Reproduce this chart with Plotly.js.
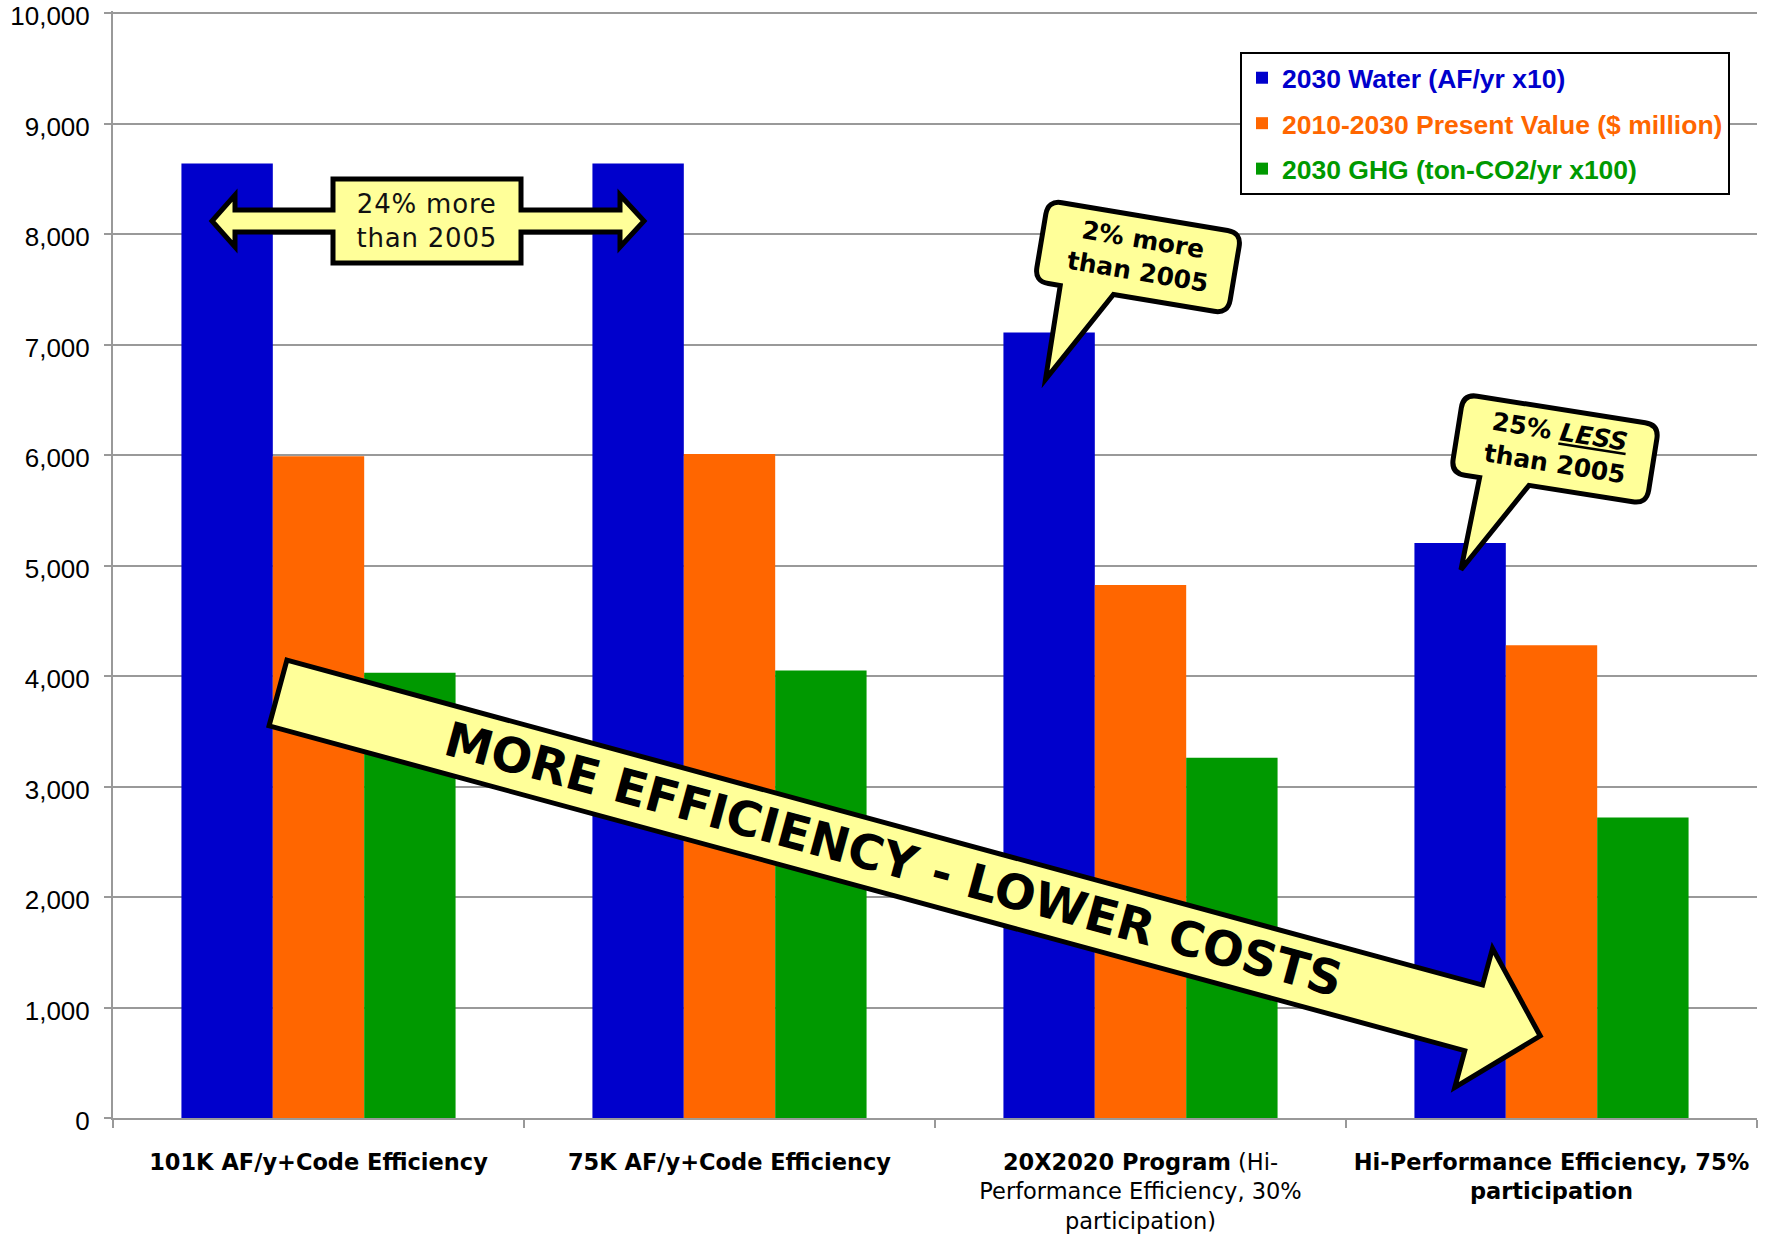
<!DOCTYPE html>
<html>
<head>
<meta charset="utf-8">
<script src="https://cdn.plot.ly/plotly-3.0.1.min.js"></script>
<style>
  html, body { margin: 0; padding: 0; background: #ffffff; }
  #chart { width: 1767px; height: 1236px; }
  /* slightly wider tracking for the boxed note */
  #chart .annotation[data-index="0"] text { letter-spacing: 0.8px; }
</style>
</head>
<body>
<div id="chart"></div>
<script>
// Scenario categories and their axis labels
const categories = [
  '101K AF/y+Code Efficiency',
  '75K AF/y+Code Efficiency',
  '20X2020 Program (Hi-Performance Efficiency, 30% participation)',
  'Hi-Performance Efficiency, 75% participation'
];
const tickLabels = [
  '<b>101K AF/y+Code Efficiency</b>',
  '<b>75K AF/y+Code Efficiency</b>',
  '<b>20X2020 Program</b> (Hi-<br>Performance Efficiency, 30%<br>participation)',
  '<b>Hi-Performance Efficiency, 75%<br>participation</b>'
];

// Series
const seriesNames = [
  '2030 Water (AF/yr x10)',
  '2010-2030 Present Value ($ million)',
  '2030 GHG (ton-CO2/yr x100)'
];
const water2030 = [8640, 8640, 7110, 5205];
const presentValue = [5990, 6010, 4825, 4280];
const ghg2030 = [4030, 4050, 3260, 2720];
const seriesColors = ['#0000CC', '#FF6600', '#009900'];

const yTicks = [0, 1000, 2000, 3000, 4000, 5000, 6000, 7000, 8000, 9000, 10000];
const yMax = 10020;

// Plot-area geometry (pixels) used for the decorative callouts
const W = 1767, H = 1236;
const M = { l: 113, r: 10, t: 11, b: 118 };
const PL = M.l, PR = W - M.r, PT = M.t, PB = H - M.b;
const fx = x => ((x - PL) / (PR - PL)).toFixed(5);
const fy = y => ((PB - y) / (PB - PT)).toFixed(5);
const pt = p => fx(p[0]) + ',' + fy(p[1]);

function polyPath(points) {
  return points.map((p, i) => (i ? 'L' : 'M') + pt(p)).join(' ') + ' Z';
}

// rotate local (x,y) about a centre, angle in degrees (clockwise on screen)
function rotator(cx, cy, deg) {
  const a = deg * Math.PI / 180, c = Math.cos(a), s = Math.sin(a);
  return ([x, y]) => [cx + x * c - y * s, cy + x * s + y * c];
}

// Rounded speech bubble with a tail pointing down-left
function bubblePath(cx, cy, w, h, r, deg, tail) {
  const T = rotator(cx, cy, deg);
  const hw = w / 2, hh = h / 2;
  const segs = [
    ['M', [-hw + r, -hh]],
    ['L', [hw - r, -hh]],
    ['Q', [hw, -hh], [hw, -hh + r]],
    ['L', [hw, hh - r]],
    ['Q', [hw, hh], [hw - r, hh]],
    ['L', [tail.b2, hh]],
    ['L', tail.tip],
    ['L', [tail.b1, hh]],
    ['L', [-hw + r, hh]],
    ['Q', [-hw, hh], [-hw, hh - r]],
    ['L', [-hw, -hh + r]],
    ['Q', [-hw, -hh], [-hw + r, -hh]]
  ];
  return segs.map(([cmd, ...ps]) => cmd + ps.map(p => pt(T(p))).join(' ')).join(' ') + ' Z';
}

// Long block arrow
function blockArrowPath(x0, y0, deg, len, headStart, halfShaft, halfHead) {
  const T = rotator(x0, y0, deg);
  const local = [
    [0, -halfShaft], [headStart, -halfShaft], [headStart, -halfHead],
    [len, 0], [headStart, halfHead], [headStart, halfShaft], [0, halfShaft]
  ];
  return polyPath(local.map(T));
}

// Box with a double-headed arrow through it
const doubleArrow = polyPath([
  [333, 179], [521, 179], [521, 210], [620, 210], [620, 195], [644, 221],
  [620, 247], [620, 232], [521, 232], [521, 263], [333, 263], [333, 232],
  [235, 232], [235, 247], [212, 221], [235, 195], [235, 210], [333, 210]
]);

const yellow = '#FFFF99';
const outline = { color: '#000000', width: 5 };

const shapes = [
  { type: 'path', xref: 'paper', yref: 'paper', path: doubleArrow,
    fillcolor: yellow, line: outline, layer: 'above' },
  { type: 'path', xref: 'paper', yref: 'paper',
    path: bubblePath(1138, 257, 196, 82, 14, 9.5, { b1: -72, b2: -18, tip: [-71, 136] }),
    fillcolor: yellow, line: outline, layer: 'above' },
  { type: 'path', xref: 'paper', yref: 'paper',
    path: bubblePath(1555, 449, 198, 80, 14, 9, { b1: -70, b2: -20, tip: [-74, 134] }),
    fillcolor: yellow, line: outline, layer: 'above' },
  { type: 'path', xref: 'paper', yref: 'paper',
    path: blockArrowPath(278, 693, 15.2, 1308, 1239, 34, 72),
    fillcolor: yellow, line: outline, layer: 'above' }
];

const annotations = [
  { xref: 'paper', yref: 'paper', x: fx(427), y: fy(221), showarrow: false,
    xanchor: 'center', yanchor: 'middle',
    text: '24% more<br>than 2005',
    font: { family: 'DejaVu Sans, Verdana, sans-serif', size: 26, color: '#111111' } },
  { xref: 'paper', yref: 'paper', x: fx(1140), y: fy(256), showarrow: false,
    xanchor: 'center', yanchor: 'middle', textangle: 9.5,
    text: '<b>2% more<br>than 2005</b>',
    font: { family: 'DejaVu Sans, sans-serif', size: 25, color: '#000000' } },
  { xref: 'paper', yref: 'paper', x: fx(1557), y: fy(448), showarrow: false,
    xanchor: 'center', yanchor: 'middle', textangle: 9,
    text: '<b>25% <i><u>LESS</u></i><br>than 2005</b>',
    font: { family: 'DejaVu Sans, sans-serif', size: 25, color: '#000000' } },
  { xref: 'paper', yref: 'paper', x: fx(894), y: fy(859), showarrow: false,
    xanchor: 'center', yanchor: 'middle', textangle: 15.2,
    text: '<b>MORE EFFICIENCY - LOWER COSTS</b>',
    font: { family: 'DejaVu Sans, sans-serif', size: 48, color: '#000000' } }
];

const seriesValues = [water2030, presentValue, ghg2030];
const traces = seriesValues.map((vals, i) => ({
  type: 'bar',
  x: categories,
  y: vals,
  name: '<b><span style="color:' + seriesColors[i] + '">' + seriesNames[i] + '</span></b>',
  legendgroup: 'g' + i,
  marker: { color: seriesColors[i], line: { width: 0 } },
  hoverinfo: 'x+y'
}));

const layout = {
  width: W, height: H,
  margin: M,
  paper_bgcolor: '#ffffff',
  plot_bgcolor: '#ffffff',
  barmode: 'group',
  bargap: 0.333,
  bargroupgap: 0,
  font: { family: 'Liberation Sans, Arial, sans-serif', color: '#000000' },
  showlegend: true,
  legend: {
    x: fx(1240), y: fy(52), xanchor: 'left', yanchor: 'top',
    bgcolor: '#ffffff', bordercolor: '#000000', borderwidth: 2,
    traceorder: 'grouped', tracegroupgap: 8,
    font: { family: 'Liberation Sans, Arial, sans-serif', size: 26.5 }
  },
  xaxis: {
    type: 'category',
    tickmode: 'array', tickvals: categories, ticktext: tickLabels,
    tickson: 'boundaries', ticks: 'outside', ticklen: 8, tickwidth: 2, tickcolor: '#999999',
    showline: true, linecolor: '#999999', linewidth: 2,
    showgrid: false, zeroline: false,
    tickfont: { family: 'DejaVu Sans, sans-serif', size: 22.5, color: '#000000' },
    ticklabelstandoff: 23,
    automargin: false
  },
  yaxis: {
    range: [0, yMax],
    tickmode: 'array', tickvals: yTicks,
    tickformat: ',d',
    ticks: 'outside', ticklen: 7, tickwidth: 2, tickcolor: '#999999',
    showline: true, linecolor: '#999999', linewidth: 2,
    showgrid: true, gridcolor: '#999999', gridwidth: 2,
    zeroline: false,
    ticklabeloverflow: 'allow',
    ticklabelshift: 3,
    tickfont: { family: 'Liberation Sans, Arial, sans-serif', size: 26, color: '#000000' },
    ticklabelstandoff: 9,
    automargin: false
  },
  shapes: shapes,
  annotations: annotations
};

Plotly.newPlot('chart', traces, layout, { displayModeBar: false, staticPlot: true });
</script>
</body>
</html>
